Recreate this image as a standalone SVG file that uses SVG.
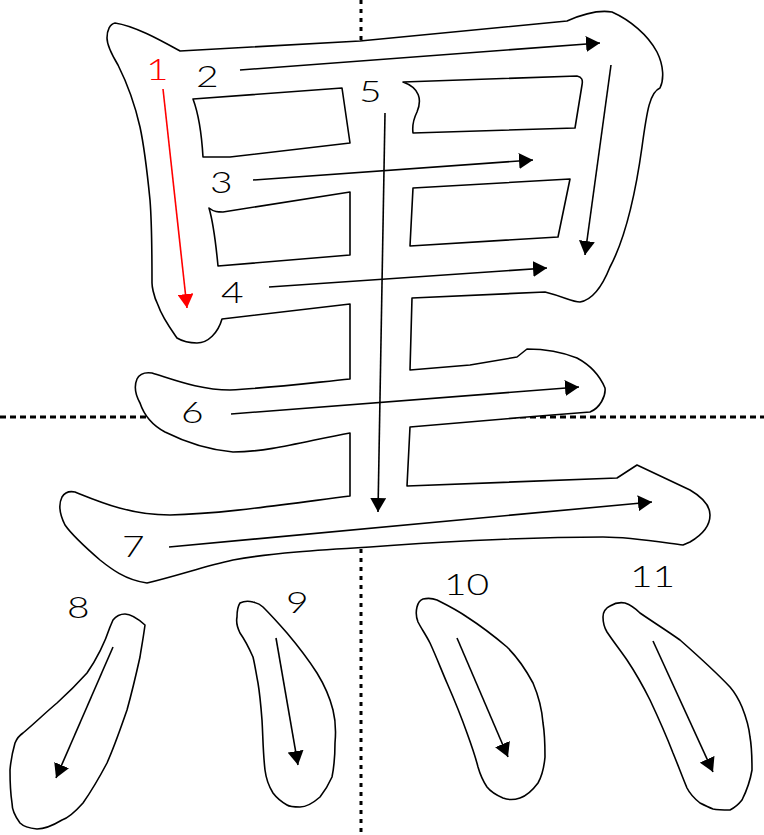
<svg xmlns="http://www.w3.org/2000/svg" width="764" height="835" viewBox="0 0 764 835">
<style>
.ol{fill:#fff;stroke:#000;stroke-width:1.6;stroke-linejoin:round}
.hole{fill:#fff;stroke:#000;stroke-width:1.6;stroke-linejoin:round}
.ar{stroke:#000;stroke-width:1.6;fill:none}
.arr{stroke:#f00;stroke-width:1.6;fill:none}
.num{font-family:Lato,"Liberation Sans",Arial,sans-serif;font-weight:300;font-size:30px;fill:#000}
.guide{stroke:#000;stroke-width:3;fill:none}
</style>
<defs>
<marker id="ah" viewBox="0 0 14 16" refX="14" refY="8" markerWidth="14" markerHeight="16" markerUnits="userSpaceOnUse" orient="auto">
<path d="M0,0 L14,8 L0,16 Z" fill="#000"/>
</marker>
<marker id="ahr" viewBox="0 0 14 16" refX="14" refY="8" markerWidth="14" markerHeight="16" markerUnits="userSpaceOnUse" orient="auto">
<path d="M0,0 L14,8 L0,16 Z" fill="#f00"/>
</marker>
</defs>
<rect width="764" height="835" fill="#fff"/>
<g id="guides">
<line class="guide" x1="361" y1="0" x2="361" y2="835" stroke-dasharray="4 5"/>
<line class="guide" x1="0" y1="417" x2="764" y2="417" stroke-dasharray="6 4"/>
</g>
<g id="upper">
<path class="ol" d="M115,23 C135,26 160,40 180,51 L360,41 L567,21 C585,13 600,10 612,12 C630,20 648,35 657,52 C664,66 664,80 660,88 C650,92 647,110 642,147 C636,190 627,235 610,267 C602,287 592,300 580,302 C572,302 565,297 545,292 L412,298 L410,370 L470,365 L517,357 L527,349 C545,349 562,352 577,358 C590,365 600,376 605,388 C606,396 600,408 590,412 L527,417 L410,427 L407,486 L617,478 L637,465 L690,490 C702,497 710,506 710,515 C710,527 702,535 690,542 L683,545 C660,542 630,537 603,537 C520,537 420,543 370,547 C320,550 270,553 233,560 C205,566 180,575 147,583 C125,580 110,568 100,560 C85,547 72,535 65,525 C60,515 58,505 62,497 C65,492 70,491 75,492 C100,502 130,515 170,515 C220,514 280,505 350,496 L350,433 C310,440 270,452 233,452 C210,450 185,442 165,432 C150,424 143,412 140,403 C135,394 134,386 137,379 C140,373 145,372 152,373 C175,380 200,390 230,390 C270,388 310,383 350,379 L350,304 L222,319 C218,333 208,343 197,343 C188,343 182,341 177,338 C170,328 162,317 158,305 C153,295 152,285 152,283 C152,250 152,225 150,200 C147,170 145,150 140,127 C135,105 128,85 118,65 C112,55 107,45 107,38 C107,30 110,24 115,23 Z"/>
<path class="hole" d="M193,99 L342,88 L350,143 L230,157 L203,157 C202,140 199,115 193,99 Z"/>
<path class="hole" d="M209,208 C214,212 218,212 223,212 L350,192 L350,255 L218,266 C216,245 214,225 209,208 Z"/>
<path class="hole" d="M403,82 L577,76 C582,77 583,80 582,85 L575,128 L413,133 C412,125 414,118 417,112 C422,100 420,88 403,82 Z"/>
<path class="hole" d="M413,188 L570,179 L558,237 L410,246 Z"/>
</g>
<g id="s8"><path class="ol" d="M113,620 C117,615 121,614 125,614 C130,614 136,617 145,625 C143,640 141,650 140,657 C136,675 132,692 127,710 C120,730 115,745 107,763 C98,780 90,793 83,803 C75,812 68,818 62,820 C52,826 44,829 37,829 C28,828 22,825 20,823 C14,815 12,808 12,803 C10,790 10,780 10,770 C11,758 13,750 15,743 C17,738 20,735 23,733 C35,723 45,713 57,703 C68,693 78,683 87,673 C96,660 104,645 110,627 Z"/></g>
<g id="s9"><path class="ol" d="M240,603 C244,601 249,601 253,602 C258,603 261,605 263,607 C272,616 280,625 287,633 C298,646 308,659 317,673 C325,686 330,698 333,710 C336,722 336,732 335,743 C335,755 334,767 332,777 C328,786 324,792 320,797 C312,804 306,807 300,807 C294,807 290,807 287,805 C280,801 276,797 273,793 C268,785 266,778 265,770 C263,753 263,737 262,720 C261,707 260,695 258,683 C256,673 255,665 253,657 C249,648 245,640 240,633 C237,627 236,622 237,617 C237,610 238,606 240,603 Z"/></g>
<g id="s10"><path class="ol" d="M417,607 C418,603 420,600 423,599 C428,598 432,598 437,600 C447,605 457,610 467,617 C481,626 494,636 507,647 C518,658 526,670 533,683 C539,697 542,710 543,723 C545,735 545,746 545,757 C544,768 542,776 538,783 C532,791 526,796 520,798 C514,800 508,800 503,798 C496,795 491,792 487,787 C483,781 480,774 478,767 C475,755 471,744 467,733 C461,716 454,699 447,683 C441,669 436,656 430,643 C426,635 421,628 418,622 C416,617 416,611 417,607 Z"/></g>
<g id="s11"><path class="ol" d="M603,617 C603,612 606,608 610,606 C615,603 620,602 625,603 C631,605 636,609 640,613 C653,622 666,630 680,640 C697,655 714,670 730,687 C736,694 739,700 742,707 C746,717 749,727 750,737 C752,748 752,760 752,770 C750,782 746,792 742,800 C738,805 734,808 730,810 C724,810 718,810 713,809 C708,807 704,805 700,803 C695,799 690,794 687,788 C682,776 678,765 673,753 C666,735 658,717 650,700 C643,686 635,672 627,660 C620,650 613,641 607,632 C604,627 603,622 603,617 Z"/></g>
<g id="connectors">
<line class="arr" x1="163" y1="89" x2="187" y2="308" marker-end="url(#ahr)"/>
<line class="ar" x1="240" y1="70" x2="600" y2="43" marker-end="url(#ah)"/>
<line class="ar" x1="611" y1="65" x2="585" y2="255" marker-end="url(#ah)"/>
<line class="ar" x1="253" y1="180" x2="533" y2="160" marker-end="url(#ah)"/>
<line class="ar" x1="269" y1="287" x2="547" y2="268" marker-end="url(#ah)"/>
<line class="ar" x1="385" y1="113" x2="378" y2="512" marker-end="url(#ah)"/>
<line class="ar" x1="231" y1="414" x2="579" y2="387" marker-end="url(#ah)"/>
<line class="ar" x1="169" y1="547" x2="652" y2="502" marker-end="url(#ah)"/>
<line class="ar" x1="113" y1="647" x2="56" y2="778" marker-end="url(#ah)"/>
<line class="ar" x1="276" y1="638" x2="298" y2="765" marker-end="url(#ah)"/>
<line class="ar" x1="457" y1="638" x2="508" y2="757" marker-end="url(#ah)"/>
<line class="ar" x1="653" y1="641" x2="713" y2="772" marker-end="url(#ah)"/>
</g>
<g id="labels">
<text class="num" transform="translate(146,80) scale(1.3,1)" style="fill:#f00">1</text>
<text class="num" transform="translate(196,87) scale(1.3,1)">2</text>
<text class="num" transform="translate(210,193) scale(1.3,1)">3</text>
<text class="num" transform="translate(221,303) scale(1.3,1)">4</text>
<text class="num" transform="translate(359,102) scale(1.3,1)">5</text>
<text class="num" transform="translate(181,423) scale(1.3,1)">6</text>
<text class="num" transform="translate(122,557) scale(1.3,1)">7</text>
<text class="num" transform="translate(67,618) scale(1.3,1)">8</text>
<text class="num" transform="translate(286,613) scale(1.3,1)">9</text>
<text class="num" transform="translate(444,595) scale(1.3,1)">10</text>
<text class="num" transform="translate(630,587) scale(1.3,1)">11</text>
</g>
</svg>
